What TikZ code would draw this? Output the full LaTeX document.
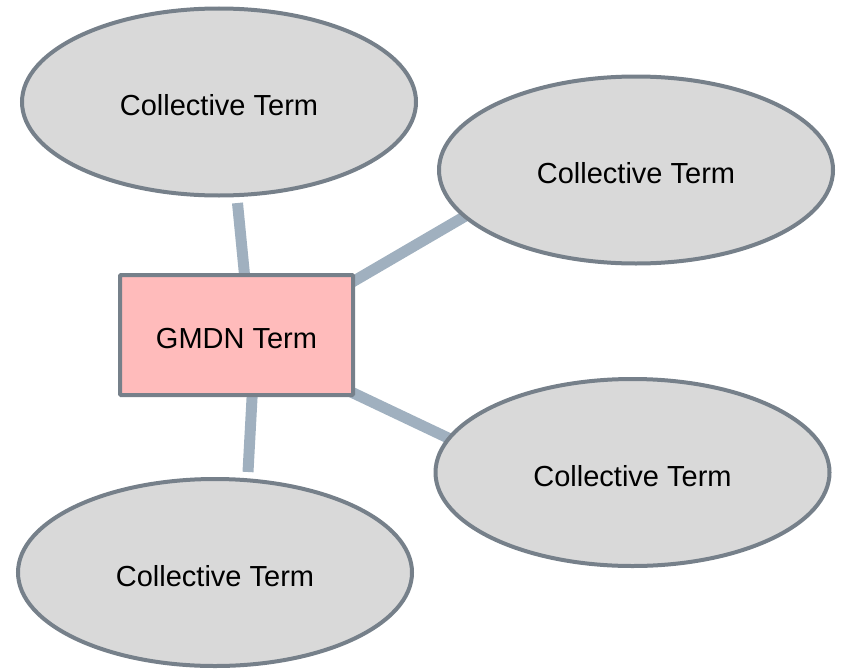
\documentclass[tikz,border=0pt]{standalone}
\usepackage{fontspec}
\setmainfont{Liberation Sans}
\usetikzlibrary{shapes.geometric,backgrounds}
\definecolor{bordergray}{HTML}{76808A}
\definecolor{conncol}{HTML}{A0B0BF}
\definecolor{ellfill}{HTML}{D9D9D9}
\definecolor{boxfill}{HTML}{FFBBBB}
\tikzset{
  term/.style={ellipse, draw=bordergray, fill=ellfill, line width=4pt,
    minimum width=394pt, minimum height=187pt, inner sep=0pt,
    text height=27pt, text depth=0pt,
    font=\fontsize{29}{34}\selectfont, text=black},
  gmdn/.style={rectangle, draw=bordergray, fill=boxfill, line width=4pt,
    minimum width=233pt, minimum height=120pt, inner sep=0pt, rounded corners=1pt,
    text height=27pt, text depth=0pt,
    font=\fontsize{29}{34}\selectfont, text=black},
  conn/.style={draw=conncol, line width=11pt, line cap=butt}
}
\begin{document}
\begin{tikzpicture}[x=1pt,y=-1pt]
\useasboundingbox (0,0) rectangle (842,669);
\node[gmdn] (g) at (236.5,335) {GMDN Term};
\node[term] (e1) at (219,102) {Collective Term};
\node[term] (e2) at (636,170) {Collective Term};
\node[term] (e3) at (632.5,472.5) {Collective Term};
\node[term] (e4) at (215,572.5) {Collective Term};
\coordinate (a1) at (237.5,203);
\coordinate (b1) at (246,290);
\coordinate (a2) at (330,295);
\coordinate (b2) at (480,207.5);
\coordinate (a3) at (330,382);
\coordinate (b3) at (465,446);
\coordinate (a4) at (253,380);
\coordinate (b4) at (248,472);
\begin{scope}[on background layer]
\draw[conn] (a1) -- (b1);
\draw[conn] (a2) -- (b2);
\draw[conn] (a3) -- (b3);
\draw[conn] (a4) -- (b4);
\end{scope}
\end{tikzpicture}
\end{document}
